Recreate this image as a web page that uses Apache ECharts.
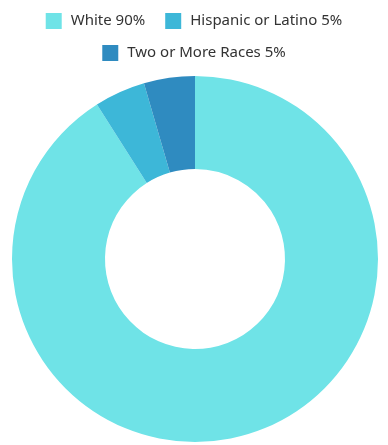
<!DOCTYPE html>
<html>
<head>
<meta charset="utf-8">
<script src="https://cdn.jsdelivr.net/npm/echarts@6/dist/echarts.min.js"></script>
<style>
  html, body { margin: 0; padding: 0; background: #fff; }
  #chart { width: 388px; height: 445px; }
</style>
</head>
<body>
<div id="chart"></div>
<script>
// groups as shown in the legend
var categories = ['White 90%', 'Hispanic or Latino 5%', 'Two or More Races 5%'];
// slice sizes
var values = [91, 4.5, 4.5];
var colors = ['#6fe3e7', '#3db7d8', '#2f8bc0'];

var chart = echarts.init(document.getElementById('chart'));

var legendStyle = {
  left: 'center',
  orient: 'horizontal',
  itemWidth: 16,
  itemHeight: 16,
  itemGap: 20,
  icon: 'rect',
  textStyle: { fontFamily: 'Noto Sans', fontSize: 15, color: '#333', padding: [0, 0, 0, 4] }
};

chart.setOption({
  color: colors,
  legend: [
    Object.assign({ top: 8, data: categories.slice(0, 2) }, legendStyle),
    Object.assign({ top: 40, data: categories.slice(2) }, legendStyle)
  ],
  series: [{
    type: 'pie',
    center: [195, 259],
    radius: [90, 183],
    startAngle: 90,
    clockwise: true,
    label: { show: false },
    labelLine: { show: false },
    emphasis: { disabled: true },
    itemStyle: { borderWidth: 0 },
    data: categories.map(function (c, i) { return { name: c, value: values[i] }; })
  }]
});
</script>
</body>
</html>
